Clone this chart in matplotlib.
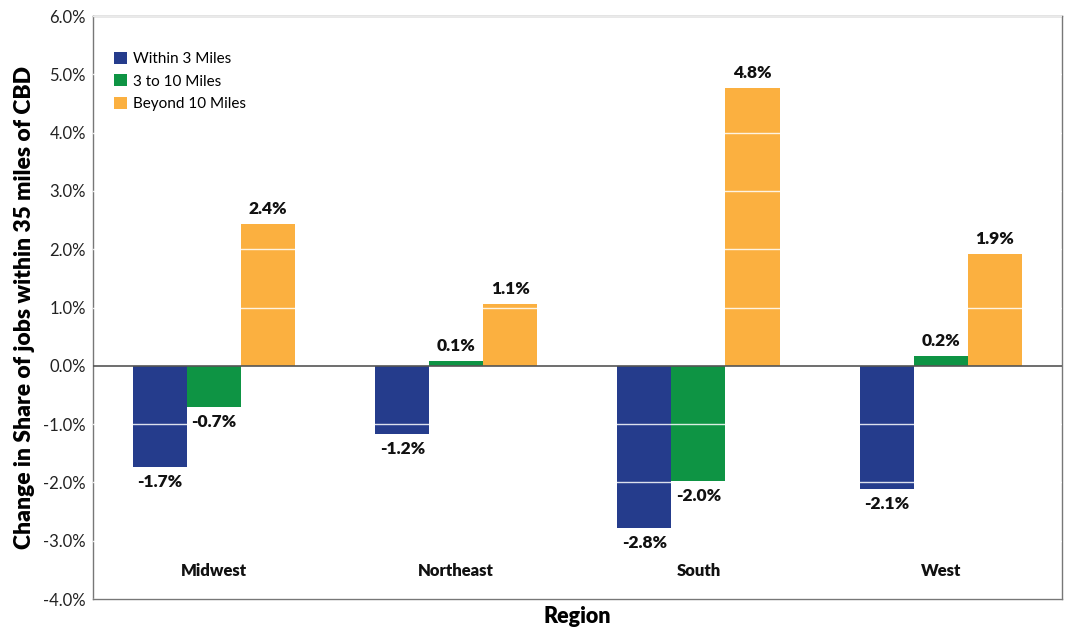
import matplotlib
matplotlib.use("Agg")
import matplotlib.pyplot as plt
import numpy as np

regions = ["Midwest", "Northeast", "South", "West"]
series_names = ["Within 3 Miles", "3 to 10 Miles", "Beyond 10 Miles"]
within_3 = [-1.73, -1.17, -2.78, -2.11]
three_to_10 = [-0.70, 0.09, -1.97, 0.17]
beyond_10 = [2.43, 1.06, 4.76, 1.92]
y_ticks = [-4, -3, -2, -1, 0, 1, 2, 3, 4, 5, 6]

colors = ["#253C8C", "#0E9444", "#FBB040"]
series = [within_3, three_to_10, beyond_10]

plt.rcParams["font.family"] = ["Lato", "DejaVu Sans"]

fig = plt.figure(figsize=(10.65, 6.33), dpi=100)
ax = fig.add_axes([0.0873, 0.0537, 0.9097, 0.921])

x = np.arange(len(regions))
width = 0.223
for i, (vals, col, name) in enumerate(zip(series, colors, series_names)):
    pos = x + (i - 1) * width
    ax.bar(pos, vals, width=width, color=col, label=name, zorder=2)
    for p, v in zip(pos, vals):
        off = 0.12 if v >= 0 else -0.12
        ax.text(p, v + off, f"{v:.1f}%", ha="center",
                va="bottom" if v >= 0 else "top",
                fontsize=12.5, fontweight="heavy", color="#111111", zorder=5)

# white gridlines drawn over the bars
for t in y_ticks:
    if t != 0:
        ax.axhline(t, color="white", lw=1.0, alpha=0.85, zorder=3)
ax.axhline(0, color="#555555", lw=1.2, zorder=4)

ax.set_xlim(-0.5, len(regions) - 0.5)
ax.set_ylim(-4, 6)
ax.set_yticks(y_ticks)
ax.set_yticklabels([f"{t:.1f}%" for t in y_ticks], fontsize=12, color="#222222")
ax.tick_params(axis="y", length=0, pad=5)
ax.set_xticks([])

for xi, r in zip(x, regions):
    ax.text(xi, -3.52, r, ha="center", va="center", fontsize=12,
            fontweight="heavy", color="#111111")

for s in ax.spines.values():
    s.set_color("#777777")
    s.set_linewidth(1.0)

ax.set_ylabel("Change in Share of jobs within 35 miles of CBD", fontsize=16.5,
              fontweight="heavy", labelpad=6)
ax.set_xlabel("Region", fontsize=15.5, fontweight="heavy", labelpad=5)

leg = ax.legend(loc="upper left", bbox_to_anchor=(0.008, 0.962), frameon=False,
                fontsize=11, handlelength=0.8, handleheight=0.8,
                handletextpad=0.4, labelspacing=0.55)

fig.savefig("out.png", dpi=100)
